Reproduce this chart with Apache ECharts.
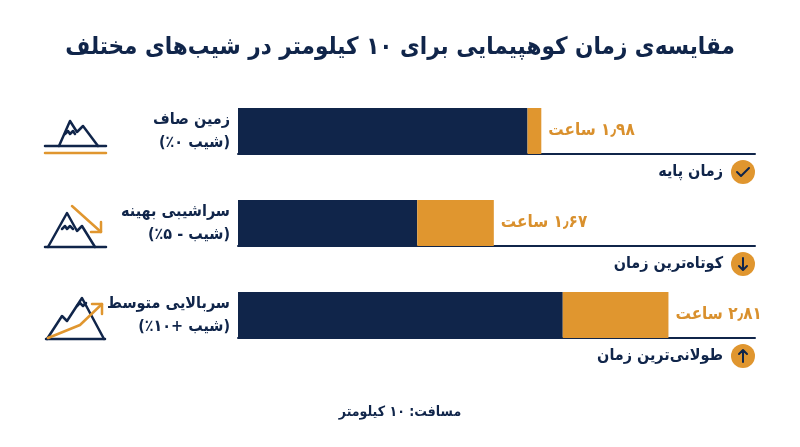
<!DOCTYPE html>
<html dir="rtl">
<head>
<meta charset="utf-8">
<script src="https://cdn.jsdelivr.net/npm/echarts@6/dist/echarts.min.js"></script>
<style>
html, body { margin: 0; background: #fff; }
#chart { width: 800px; height: 447px; }
</style>
</head>
<body>
<div id="chart"></div>
<script>
var navy = '#10254a';
var orange = '#e0962f';
var font = "'DejaVu Sans Condensed', 'DejaVu Sans', sans-serif";

// داده‌ها
var slopeNames = ['زمین صاف', 'سراشیبی بهینه', 'سربالایی متوسط'];
var slopeGrades = ['(شیب ۰٪)', '(شیب - ۵٪)', '(شیب +۱۰٪)'];
var totalHours = [1.98, 1.67, 2.81];
var baseHours = [1.89, 1.17, 2.12];
var notes = ['زمان پایه', 'کوتاه‌ترین زمان', 'طولانی‌ترین زمان'];
var noteIcons = ['check', 'down', 'up'];

var rowTop = [108, 200, 292];
var barH = 46;

function toFa(v) {
    return v.toFixed(2).replace('.', '٫').replace(/\d/g, function (d) { return '۰۱۲۳۴۵۶۷۸۹'[d]; });
}

var grids = [], xAxes = [], yAxes = [], series = [], graphics = [];

slopeNames.forEach(function (name, i) {
    grids.push({ left: 238, right: 45, top: rowTop[i], height: barH });
    xAxes.push({
        type: 'value', gridIndex: i, min: 0, max: 3.375,
        axisLine: { show: true, lineStyle: { color: navy, width: 2 } },
        axisTick: { show: false }, axisLabel: { show: false }, splitLine: { show: false }
    });
    yAxes.push({
        type: 'category', gridIndex: i, data: [name],
        axisLine: { show: false }, axisTick: { show: false },
        axisLabel: {
            margin: 8,
            formatter: function () { return '{a|' + slopeNames[i] + '}\n{a|' + slopeGrades[i] + '}'; },
            rich: { a: { fontFamily: font, fontSize: 16, fontWeight: 'bold', color: navy, lineHeight: 23, align: 'right' } }
        }
    });
    series.push({
        type: 'bar', xAxisIndex: i, yAxisIndex: i, stack: 's' + i, barWidth: '100%',
        data: [baseHours[i]], itemStyle: { color: navy }
    });
    series.push({
        type: 'bar', xAxisIndex: i, yAxisIndex: i, stack: 's' + i, barWidth: '100%',
        data: [+(totalHours[i] - baseHours[i]).toFixed(2)], itemStyle: { color: orange },
        label: {
            show: true, position: 'right', distance: 7,
            formatter: function () { return toFa(totalHours[i]) + ' ساعت'; },
            fontFamily: font, fontSize: 17, fontWeight: 'bold', color: '#d9902d'
        }
    });

    // یادداشت زیر هر ردیف
    var cy = rowTop[i] + 64;
    graphics.push({ type: 'circle', shape: { cx: 743, cy: cy, r: 12 }, style: { fill: orange } });
    var pts;
    if (noteIcons[i] === 'check') pts = [[-6, 0], [-2, 4], [6, -4]];
    else if (noteIcons[i] === 'down') pts = [[0, -6], [0, 6], [-4, 2], [0, 6], [4, 2]];
    else pts = [[0, 6], [0, -6], [-4, -2], [0, -6], [4, -2]];
    graphics.push({
        type: 'polyline',
        shape: { points: pts.map(function (p) { return [743 + p[0], cy + p[1]]; }) },
        style: { stroke: navy, lineWidth: 2, fill: null, lineJoin: 'round', lineCap: 'round' }
    });
    graphics.push({
        type: 'text', x: 723, y: cy,
        style: { text: notes[i], fontFamily: font, fontSize: 16, fontWeight: 'bold', fill: navy, align: 'right', verticalAlign: 'middle' }
    });
});

// آیکون‌های کوه
function line(points, color) {
    return { type: 'polyline', shape: { points: points },
        style: { stroke: color, lineWidth: 2.5, fill: null, lineJoin: 'round', lineCap: 'round' } };
}
graphics.push(line([[45, 146], [106, 146]], navy));
graphics.push(line([[45, 153], [106, 153]], orange));
graphics.push(line([[59, 146], [70, 121], [77, 132], [83, 126], [98, 146]], navy));
graphics.push(line([[65, 134], [68, 131], [70, 134], [73, 131], [75, 134]], navy));

graphics.push(line([[45, 247], [106, 247]], navy));
graphics.push(line([[48, 247], [67, 213], [77, 231], [82, 226], [95, 247]], navy));
graphics.push(line([[62, 229], [65, 226], [67, 229], [70, 226], [73, 229]], navy));
graphics.push(line([[72, 206], [101, 232]], orange));
graphics.push(line([[101, 222], [101, 232], [91, 232]], orange));

graphics.push(line([[46, 339], [105, 339]], navy));
graphics.push(line([[47, 339], [62, 316], [67, 321], [82, 298], [104, 339]], navy));
graphics.push(line([[77, 306], [80, 303], [83, 306], [86, 303]], navy));
graphics.push(line([[48, 338], [80, 325], [102, 304]], orange));
graphics.push(line([[92, 304], [102, 304], [102, 314]], orange));

var myChart = echarts.init(document.getElementById('chart'));
myChart.setOption({
    backgroundColor: '#ffffff',
    animation: false,
    title: [{
        text: 'مقایسه‌ی زمان کوهپیمایی برای ۱۰ کیلومتر در شیب‌های مختلف',
        left: 'center', top: 31,
        textStyle: { fontFamily: font, fontSize: 24, fontWeight: 'bold', color: navy }
    }, {
        text: 'مسافت: ۱۰ کیلومتر',
        left: 'center', top: 400,
        textStyle: { fontFamily: font, fontSize: 14, fontWeight: 'bold', color: navy }
    }],
    grid: grids,
    xAxis: xAxes,
    yAxis: yAxes,
    series: series,
    graphic: graphics
});
</script>
</body>
</html>
